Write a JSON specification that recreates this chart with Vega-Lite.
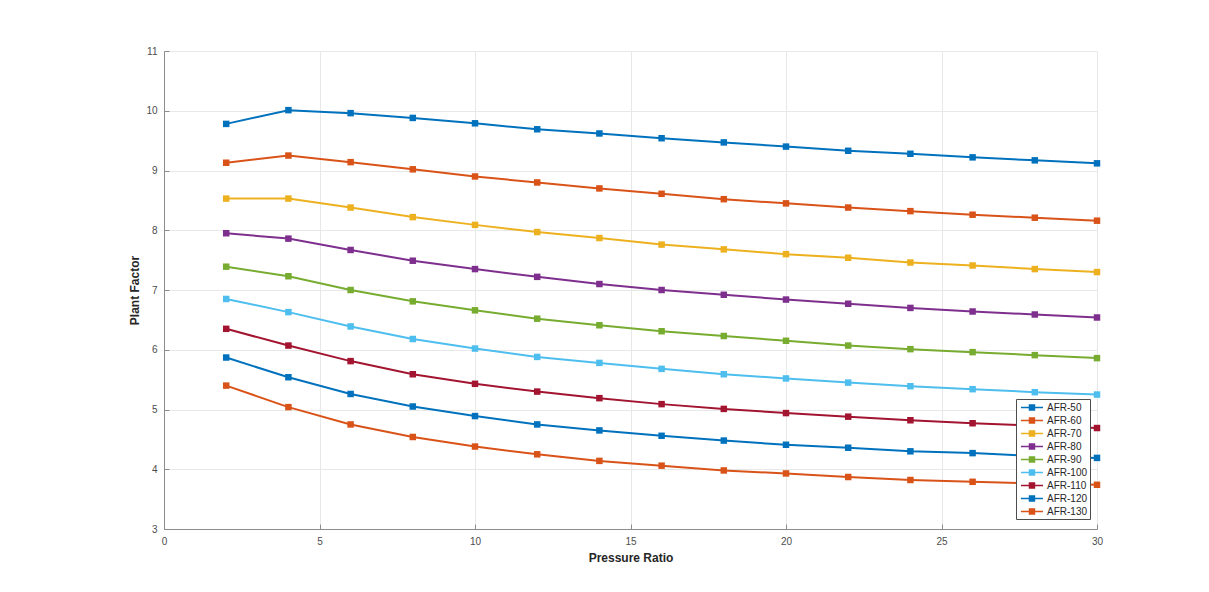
{
  "$schema": "https://vega.github.io/schema/vega-lite/v6.json",
  "width": 933,
  "height": 478,
  "autosize": {"type": "none"},
  "padding": {"left": 164, "top": 51, "right": 112, "bottom": 63},
  "background": "white",
  "config": {
    "font": "Liberation Sans",
    "view": {"stroke": null},
    "axis": {
      "domainColor": "#8c8c8c",
      "gridColor": "#e8e8e8",
      "gridWidth": 1,
      "tickColor": "#8c8c8c",
      "labelColor": "#4d4d4d",
      "labelFontSize": 10,
      "titleColor": "#262626",
      "titleFontSize": 12,
      "titleFontWeight": "bold"
    }
  },
  "data": {"values": [
    {"pr":2,"afr":"AFR-50","pf":9.78},{"pr":4,"afr":"AFR-50","pf":10.01},{"pr":6,"afr":"AFR-50","pf":9.96},{"pr":8,"afr":"AFR-50","pf":9.88},{"pr":10,"afr":"AFR-50","pf":9.79},{"pr":12,"afr":"AFR-50","pf":9.69},{"pr":14,"afr":"AFR-50","pf":9.62},{"pr":16,"afr":"AFR-50","pf":9.54},{"pr":18,"afr":"AFR-50","pf":9.47},{"pr":20,"afr":"AFR-50","pf":9.40},{"pr":22,"afr":"AFR-50","pf":9.33},{"pr":24,"afr":"AFR-50","pf":9.28},{"pr":26,"afr":"AFR-50","pf":9.22},{"pr":28,"afr":"AFR-50","pf":9.17},{"pr":30,"afr":"AFR-50","pf":9.12},
    {"pr":2,"afr":"AFR-60","pf":9.13},{"pr":4,"afr":"AFR-60","pf":9.25},{"pr":6,"afr":"AFR-60","pf":9.14},{"pr":8,"afr":"AFR-60","pf":9.02},{"pr":10,"afr":"AFR-60","pf":8.90},{"pr":12,"afr":"AFR-60","pf":8.80},{"pr":14,"afr":"AFR-60","pf":8.70},{"pr":16,"afr":"AFR-60","pf":8.61},{"pr":18,"afr":"AFR-60","pf":8.52},{"pr":20,"afr":"AFR-60","pf":8.45},{"pr":22,"afr":"AFR-60","pf":8.38},{"pr":24,"afr":"AFR-60","pf":8.32},{"pr":26,"afr":"AFR-60","pf":8.26},{"pr":28,"afr":"AFR-60","pf":8.21},{"pr":30,"afr":"AFR-60","pf":8.16},
    {"pr":2,"afr":"AFR-70","pf":8.53},{"pr":4,"afr":"AFR-70","pf":8.53},{"pr":6,"afr":"AFR-70","pf":8.38},{"pr":8,"afr":"AFR-70","pf":8.22},{"pr":10,"afr":"AFR-70","pf":8.09},{"pr":12,"afr":"AFR-70","pf":7.97},{"pr":14,"afr":"AFR-70","pf":7.87},{"pr":16,"afr":"AFR-70","pf":7.76},{"pr":18,"afr":"AFR-70","pf":7.68},{"pr":20,"afr":"AFR-70","pf":7.60},{"pr":22,"afr":"AFR-70","pf":7.54},{"pr":24,"afr":"AFR-70","pf":7.46},{"pr":26,"afr":"AFR-70","pf":7.41},{"pr":28,"afr":"AFR-70","pf":7.35},{"pr":30,"afr":"AFR-70","pf":7.30},
    {"pr":2,"afr":"AFR-80","pf":7.95},{"pr":4,"afr":"AFR-80","pf":7.86},{"pr":6,"afr":"AFR-80","pf":7.67},{"pr":8,"afr":"AFR-80","pf":7.49},{"pr":10,"afr":"AFR-80","pf":7.35},{"pr":12,"afr":"AFR-80","pf":7.22},{"pr":14,"afr":"AFR-80","pf":7.10},{"pr":16,"afr":"AFR-80","pf":7.00},{"pr":18,"afr":"AFR-80","pf":6.92},{"pr":20,"afr":"AFR-80","pf":6.84},{"pr":22,"afr":"AFR-80","pf":6.77},{"pr":24,"afr":"AFR-80","pf":6.70},{"pr":26,"afr":"AFR-80","pf":6.64},{"pr":28,"afr":"AFR-80","pf":6.59},{"pr":30,"afr":"AFR-80","pf":6.54},
    {"pr":2,"afr":"AFR-90","pf":7.39},{"pr":4,"afr":"AFR-90","pf":7.23},{"pr":6,"afr":"AFR-90","pf":7.00},{"pr":8,"afr":"AFR-90","pf":6.81},{"pr":10,"afr":"AFR-90","pf":6.66},{"pr":12,"afr":"AFR-90","pf":6.52},{"pr":14,"afr":"AFR-90","pf":6.41},{"pr":16,"afr":"AFR-90","pf":6.31},{"pr":18,"afr":"AFR-90","pf":6.23},{"pr":20,"afr":"AFR-90","pf":6.15},{"pr":22,"afr":"AFR-90","pf":6.07},{"pr":24,"afr":"AFR-90","pf":6.01},{"pr":26,"afr":"AFR-90","pf":5.96},{"pr":28,"afr":"AFR-90","pf":5.91},{"pr":30,"afr":"AFR-90","pf":5.86},
    {"pr":2,"afr":"AFR-100","pf":6.85},{"pr":4,"afr":"AFR-100","pf":6.63},{"pr":6,"afr":"AFR-100","pf":6.39},{"pr":8,"afr":"AFR-100","pf":6.18},{"pr":10,"afr":"AFR-100","pf":6.02},{"pr":12,"afr":"AFR-100","pf":5.88},{"pr":14,"afr":"AFR-100","pf":5.78},{"pr":16,"afr":"AFR-100","pf":5.68},{"pr":18,"afr":"AFR-100","pf":5.59},{"pr":20,"afr":"AFR-100","pf":5.52},{"pr":22,"afr":"AFR-100","pf":5.45},{"pr":24,"afr":"AFR-100","pf":5.39},{"pr":26,"afr":"AFR-100","pf":5.34},{"pr":28,"afr":"AFR-100","pf":5.29},{"pr":30,"afr":"AFR-100","pf":5.25},
    {"pr":2,"afr":"AFR-110","pf":6.35},{"pr":4,"afr":"AFR-110","pf":6.07},{"pr":6,"afr":"AFR-110","pf":5.81},{"pr":8,"afr":"AFR-110","pf":5.59},{"pr":10,"afr":"AFR-110","pf":5.43},{"pr":12,"afr":"AFR-110","pf":5.30},{"pr":14,"afr":"AFR-110","pf":5.19},{"pr":16,"afr":"AFR-110","pf":5.09},{"pr":18,"afr":"AFR-110","pf":5.01},{"pr":20,"afr":"AFR-110","pf":4.94},{"pr":22,"afr":"AFR-110","pf":4.88},{"pr":24,"afr":"AFR-110","pf":4.82},{"pr":26,"afr":"AFR-110","pf":4.77},{"pr":28,"afr":"AFR-110","pf":4.73},{"pr":30,"afr":"AFR-110","pf":4.69},
    {"pr":2,"afr":"AFR-120","pf":5.87},{"pr":4,"afr":"AFR-120","pf":5.54},{"pr":6,"afr":"AFR-120","pf":5.26},{"pr":8,"afr":"AFR-120","pf":5.05},{"pr":10,"afr":"AFR-120","pf":4.89},{"pr":12,"afr":"AFR-120","pf":4.75},{"pr":14,"afr":"AFR-120","pf":4.65},{"pr":16,"afr":"AFR-120","pf":4.56},{"pr":18,"afr":"AFR-120","pf":4.48},{"pr":20,"afr":"AFR-120","pf":4.41},{"pr":22,"afr":"AFR-120","pf":4.36},{"pr":24,"afr":"AFR-120","pf":4.30},{"pr":26,"afr":"AFR-120","pf":4.27},{"pr":28,"afr":"AFR-120","pf":4.22},{"pr":30,"afr":"AFR-120","pf":4.19},
    {"pr":2,"afr":"AFR-130","pf":5.40},{"pr":4,"afr":"AFR-130","pf":5.04},{"pr":6,"afr":"AFR-130","pf":4.75},{"pr":8,"afr":"AFR-130","pf":4.54},{"pr":10,"afr":"AFR-130","pf":4.38},{"pr":12,"afr":"AFR-130","pf":4.25},{"pr":14,"afr":"AFR-130","pf":4.14},{"pr":16,"afr":"AFR-130","pf":4.06},{"pr":18,"afr":"AFR-130","pf":3.98},{"pr":20,"afr":"AFR-130","pf":3.93},{"pr":22,"afr":"AFR-130","pf":3.87},{"pr":24,"afr":"AFR-130","pf":3.82},{"pr":26,"afr":"AFR-130","pf":3.79},{"pr":28,"afr":"AFR-130","pf":3.76},{"pr":30,"afr":"AFR-130","pf":3.74}
  ]},
  "encoding": {
    "x": {
      "field": "pr", "type": "quantitative", "title": "Pressure Ratio",
      "scale": {"domain": [0, 30], "nice": false, "zero": false},
      "axis": {"values": [0, 5, 10, 15, 20, 25, 30], "tickSize": -5, "labelPadding": 12, "titlePadding": 6, "labelFlush": false}
    },
    "y": {
      "field": "pf", "type": "quantitative", "title": "Plant Factor",
      "scale": {"domain": [3, 11], "nice": false, "zero": false},
      "axis": {"values": [3, 4, 5, 6, 7, 8, 9, 10, 11], "tickSize": -5, "labelPadding": 12, "titlePadding": 4, "labelFlush": false}
    },
    "color": {
      "field": "afr", "type": "nominal",
      "scale": {
        "domain": ["AFR-50","AFR-60","AFR-70","AFR-80","AFR-90","AFR-100","AFR-110","AFR-120","AFR-130"],
        "range": ["#0072BD","#D95319","#EDB120","#7E2F8E","#77AC30","#4DBEEE","#A2142F","#0072BD","#D95319"]
      },
      "legend": {
        "title": null,
        "orient": "none",
        "legendX": 852,
        "legendY": 348,
        "fillColor": "white",
        "strokeColor": "#4d4d4d",
        "padding": 2,
        "labelFontSize": 10,
        "labelColor": "#262626",
        "labelOffset": 16,
        "rowPadding": 1,
        "symbolSize": 121,
        "symbolStrokeWidth": 1.5,
        "symbolType": "M-0.64,0H3.36M0.91,-0.45H1.81V0.45H0.91Z"
      }
    }
  },
  "layer": [
    {"mark": {"type": "line", "strokeWidth": 2}},
    {"mark": {"type": "point", "shape": "square", "filled": true, "size": 42, "opacity": 1}}
  ]
}
